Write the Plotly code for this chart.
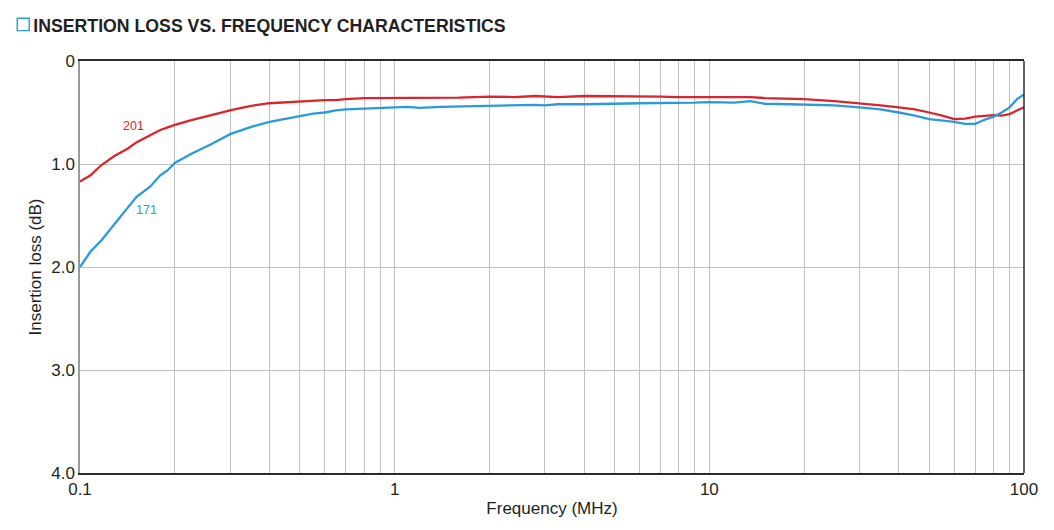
import plotly.graph_objects as go

# Frequency points (MHz)
freq_mhz = [
    0.1, 0.108, 0.117, 0.129, 0.142, 0.151, 0.167, 0.18, 0.19, 0.2,
    0.226, 0.26, 0.3, 0.32, 0.35, 0.4, 0.45, 0.5, 0.55, 0.6,
    0.65, 0.7, 0.8, 0.9, 1.0, 1.1, 1.2, 1.4, 1.6, 2.0,
    2.4, 2.8, 3.0, 3.3, 4.0, 4.4, 5.0, 6.0, 6.5, 7.0,
    8.0, 9.0, 10, 12, 13.5, 15, 18, 20, 25, 30,
    35, 40, 45, 50, 55, 60, 65, 70, 75, 80,
    85, 90, 95, 100,
]

# Insertion loss (dB), part 201
loss_201 = [
    1.17, 1.11, 1.01, 0.92, 0.85, 0.79, 0.72, 0.67, 0.645, 0.62,
    0.575, 0.525, 0.48, 0.46, 0.435, 0.41, 0.40, 0.39, 0.385, 0.38,
    0.38, 0.37, 0.36, 0.36, 0.355, 0.36, 0.355, 0.355, 0.355, 0.345,
    0.35, 0.34, 0.345, 0.35, 0.34, 0.34, 0.345, 0.345, 0.34, 0.345,
    0.35, 0.35, 0.35, 0.355, 0.35, 0.36, 0.365, 0.37, 0.39, 0.41,
    0.43, 0.45, 0.47, 0.50, 0.53, 0.565, 0.56, 0.54, 0.53, 0.525,
    0.53, 0.515, 0.48, 0.45,
]

# Insertion loss (dB), part 171
loss_171 = [
    2.0, 1.85, 1.74, 1.58, 1.42, 1.32, 1.22, 1.11, 1.06, 0.99,
    0.90, 0.81, 0.71, 0.68, 0.64, 0.59, 0.56, 0.53, 0.51, 0.50,
    0.48, 0.47, 0.46, 0.455, 0.45, 0.445, 0.455, 0.445, 0.44, 0.435,
    0.43, 0.425, 0.43, 0.42, 0.42, 0.415, 0.415, 0.41, 0.41, 0.405,
    0.41, 0.405, 0.40, 0.405, 0.39, 0.415, 0.42, 0.425, 0.43, 0.45,
    0.47, 0.50, 0.53, 0.565, 0.575, 0.59, 0.61, 0.61, 0.57, 0.54,
    0.50, 0.45, 0.37, 0.325,
]

# Log grid positions and their labels (only decades are labelled)
x_grid = [m * 10 ** e for e in (-1, 0, 1) for m in range(1, 10)] + [100]
x_labels = {0.1: "0.1", 1: "1", 10: "10", 100: "100"}
x_ticktext = [x_labels.get(round(v, 6), "") for v in x_grid]

y_ticks = [0, 1, 2, 3, 4]
y_ticktext = ["0", "1.0", "2.0", "3.0", "4.0"]

RED = "#d8262d"
BLUE = "#2a9bd8"
GRID = "#c0c0c0"
FRAME = "#2b2b2b"
TEXT = "#231f20"
FONT = "Liberation Sans, Arial, sans-serif"

fig = go.Figure()

fig.add_trace(
    go.Scatter(
        x=freq_mhz, y=loss_201, mode="lines", name="201",
        line=dict(color=RED, width=2.3), showlegend=False,
    )
)
fig.add_trace(
    go.Scatter(
        x=freq_mhz, y=loss_171, mode="lines", name="171",
        line=dict(color=BLUE, width=2.3), showlegend=False,
    )
)

# curve labels
fig.add_annotation(x=-0.831, y=0.63, xref="x", yref="y", text="201",
                   showarrow=False, font=dict(family=FONT, size=12.5, color=RED))
fig.add_annotation(x=-0.79, y=1.45, xref="x", yref="y", text="171",
                   showarrow=False, font=dict(family=FONT, size=12.5, color=BLUE))

# blue square in front of the heading
fig.add_shape(type="rect", xref="paper", yref="paper",
              x0=-0.0665, x1=-0.0538, y0=1.0737, y1=1.1039,
              line=dict(color=BLUE, width=1.4), fillcolor="rgba(0,0,0,0)")

# right border of the frame (the left one is grey)
fig.add_shape(type="line", xref="paper", yref="paper",
              x0=1, x1=1, y0=0, y1=1, line=dict(color=FRAME, width=1.5))

fig.update_layout(
    width=1038,
    height=514,
    margin=dict(l=72, r=22, t=53, b=49, autoexpand=False),
    plot_bgcolor="white",
    paper_bgcolor="white",
    font=dict(family=FONT, color=TEXT, size=17),
    title=dict(
        text="INSERTION LOSS VS. FREQUENCY CHARACTERISTICS",
        x=25.3 / 1038, xanchor="left", xref="container",
        y=1 - 18 / 514, yanchor="middle", yref="container",
        font=dict(family=FONT, size=17.7, color=TEXT, weight="bold"),
    ),
)

fig.update_xaxes(
    type="log",
    range=[-1, 2],
    tickvals=x_grid,
    ticktext=x_ticktext,
    showgrid=True,
    gridcolor=GRID,
    gridwidth=1.3,
    showline=True,
    linecolor=FRAME,
    linewidth=1.5,
    mirror=True,
    ticks="",
    automargin=False,
    tickfont=dict(size=17, color=TEXT),
    title=dict(text="Frequency (MHz)", font=dict(size=17, color=TEXT), standoff=4),
    zeroline=False,
)

fig.update_yaxes(
    range=[4, 0],
    tickvals=y_ticks,
    ticktext=y_ticktext,
    showgrid=True,
    gridcolor=GRID,
    gridwidth=1.3,
    showline=True,
    linecolor="#9a9a9a",
    linewidth=1.5,
    ticks="",
    automargin=False,
    tickfont=dict(size=17, color=TEXT),
    title=dict(text="Insertion loss (dB)", font=dict(size=17, color=TEXT), standoff=5),
    zeroline=False,
)

fig.write_html("out.html")
